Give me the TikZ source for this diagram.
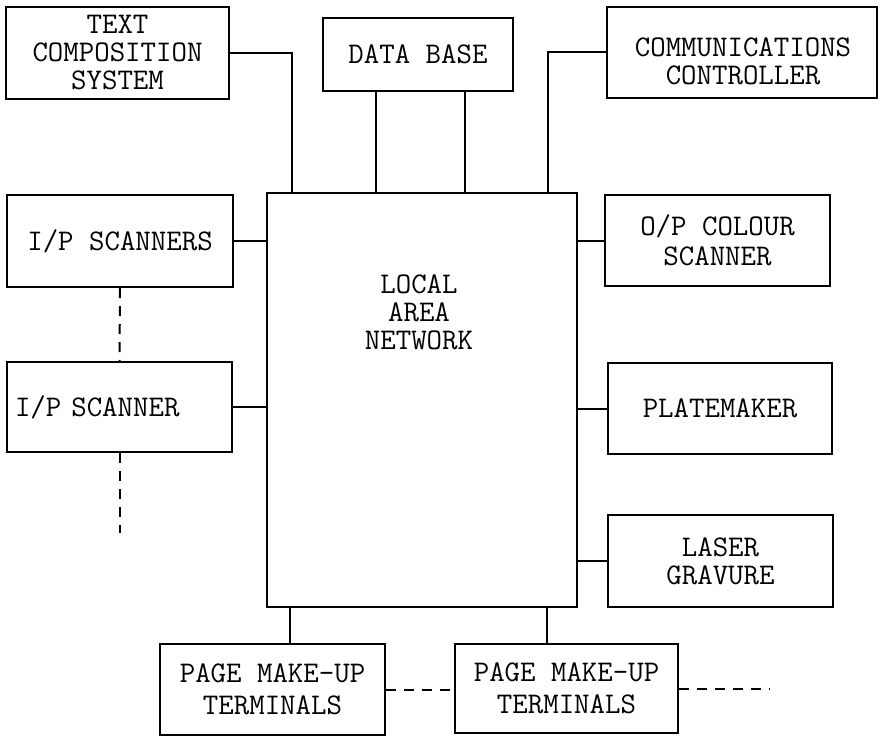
\documentclass[tikz,border=0pt]{standalone}
\usepackage{fontspec}
\usetikzlibrary{calc}
\begin{document}
\begin{tikzpicture}[x=0.5pt,y=-0.5pt,
  box/.style={draw, line width=1pt, inner sep=0pt, align=center, font=\ttfamily\fontsize{15}{14}\selectfont},
  lbl/.style={inner sep=0pt, align=center, font=\ttfamily\fontsize{15}{14}\selectfont},
  conn/.style={line width=1pt},
  dline/.style={line width=1pt, dash pattern=on 5pt off 4pt}]
\useasboundingbox (0,0) rectangle (882,738);
% boxes
\node[box, minimum width=111.5pt, minimum height=46pt] (tcs) at (117.5,53) {TEXT\\COMPOSITION\\SYSTEM};
\node[box, minimum width=95pt, minimum height=36.5pt] (db) at (418,54.5) {DATA BASE};
\node[box, minimum width=135pt, minimum height=45.5pt] (cc) at (742,52.5) {};
\node[lbl] (cctext) at (743,61) {COMMUNICATIONS\\CONTROLLER};
\node[draw, line width=1pt, minimum width=155pt, minimum height=207pt] (lan) at (422,400) {};
\node[lbl] (lantext) at (419,312) {LOCAL\\AREA\\NETWORK};
\node[box, minimum width=113pt, minimum height=46pt] (ips) at (120,241) {I/P SCANNERS};
\node[box, minimum height=45pt, text width=104.5pt, inner xsep=4pt, align=left] (ip) at (119.5,407) {I/P SCANNER};
\node[box, minimum width=112.5pt, minimum height=45.5pt] (ops) at (717.5,240.5) {O/P COLOUR\\[1pt]SCANNER};
\node[box, minimum width=112pt, minimum height=45.5pt] (pm) at (720,408.5) {PLATEMAKER};
\node[box, minimum width=112.5pt, minimum height=46pt] (lg) at (720.5,561) {LASER\\GRAVURE};
\node[box, minimum width=112.5pt, minimum height=45.5pt] (pmu1) at (272.5,689.5) {PAGE MAKE-UP\\[2pt]TERMINALS};
\node[box, minimum width=111.5pt, minimum height=44.5pt] (pmu2) at (566.5,688.5) {PAGE MAKE-UP\\[2pt]TERMINALS};
% connectors
\draw[conn] (tcs.east) -| ($(lan.north west)+(26,0)$);
\draw[conn] ($(db.south west)+(54,0)$) -- ($(lan.north west)+(110,0)$);
\draw[conn] ($(db.south west)+(143,0)$) -- ($(lan.north west)+(199,0)$);
\draw[conn] (cc.west) -| ($(lan.north east)+(-30,0)$);
\draw[conn] (ips.east) -- (ips.east -| lan.west);
\draw[conn] (ip.east) -- (ip.east -| lan.west);
\draw[conn] (ops.west) -- (ops.west -| lan.east);
\draw[conn] (pm.west) -- (pm.west -| lan.east);
\draw[conn] (lg.west) -- (lg.west -| lan.east);
\draw[conn] ($(lan.south west)+(24,0)$) -- ($(pmu1.north west)+(131,0)$);
\draw[conn] ($(lan.south west)+(281,0)$) -- ($(pmu2.north west)+(93,0)$);
% dashed continuations
\coordinate (ipend) at (119.5,533);
\coordinate (pmend) at (770,688.5);
\draw[dline] (ips.south) -- (ip.north);
\draw[dline] (ip.south) -- (ipend);
\draw[dline] (pmu1.east) -- (pmu1.east -| pmu2.west);
\draw[dline] (pmu2.east) -- (pmend);
\end{tikzpicture}
\end{document}
